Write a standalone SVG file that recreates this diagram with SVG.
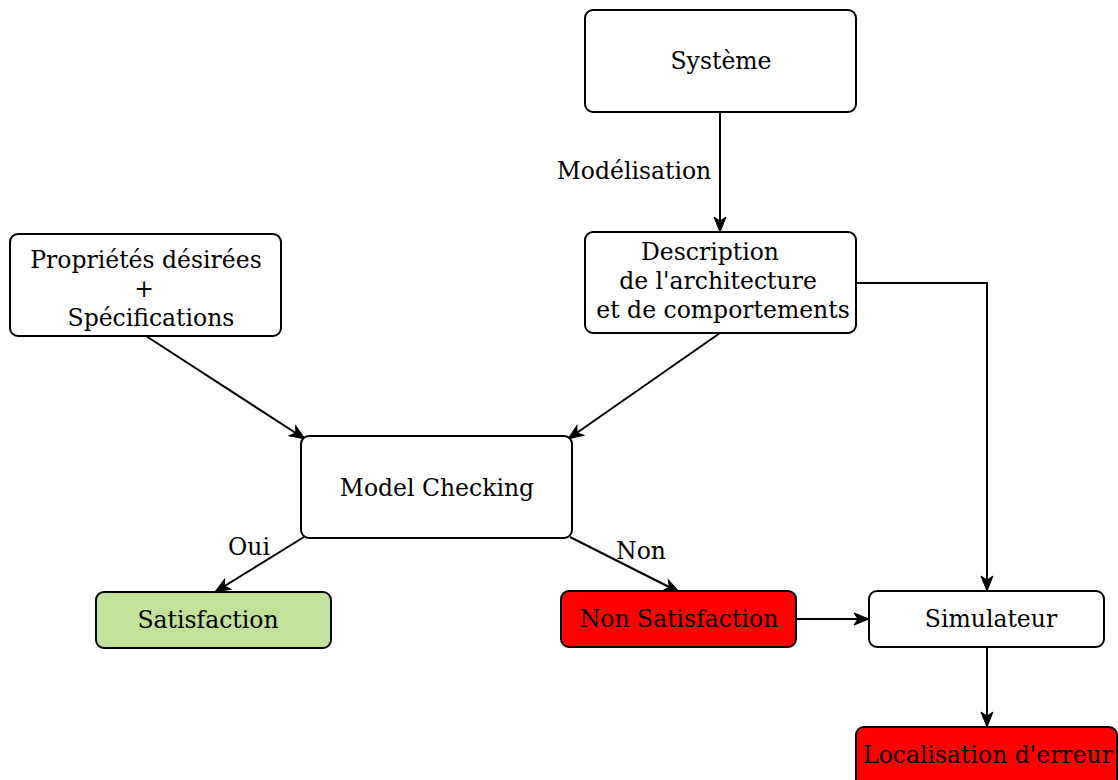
<svg xmlns="http://www.w3.org/2000/svg" width="1118" height="780" viewBox="0 0 1118 780">
<style>
.box{fill:#fff;stroke:#000;stroke-width:2}
.t{font-family:"DejaVu Serif",serif;font-size:23.5px;fill:#000;text-anchor:middle}
.c{fill:none;stroke:#000;stroke-width:2}
</style>
<defs>
<marker id="a" viewBox="0 0 16 14" refX="15" refY="7" markerWidth="16" markerHeight="14" markerUnits="userSpaceOnUse" orient="auto" overflow="visible">
<path d="M0,1 L15,7 L0,13 L4,7 z" fill="#000" stroke="#000" stroke-width="1" stroke-linejoin="miter"/>
</marker>
</defs>
<rect width="1118" height="780" fill="#fff"/>
<g id="connectors">
<path class="c" d="M720,112 L720,232" marker-end="url(#a)"/>
<path class="c" d="M856,283 L987,283 L987,591" marker-end="url(#a)"/>
<path class="c" d="M146,336 L305,439" marker-end="url(#a)"/>
<path class="c" d="M720,333 L568,439" marker-end="url(#a)"/>
<path class="c" d="M304,537 L215,592" marker-end="url(#a)"/>
<path class="c" d="M570,537 L679,592" marker-end="url(#a)"/>
<path class="c" d="M796,619 L869,619" marker-end="url(#a)"/>
<path class="c" d="M987,647 L987,727" marker-end="url(#a)"/>
<text class="t" x="634" y="179">Modélisation</text>
<text class="t" x="249" y="555">Oui</text>
<text class="t" x="641" y="559">Non</text>
</g>
<g id="systeme">
<rect class="box" x="585" y="10" width="271" height="102" rx="8"/>
<text class="t" x="721" y="69">Système</text>
</g>
<g id="description">
<rect class="box" x="585" y="232" width="271" height="101" rx="8"/>
<text class="t" x="710" y="260">Description</text>
<text class="t" x="718" y="289">de l'architecture</text>
<text class="t" x="723" y="318">et de comportements</text>
</g>
<g id="proprietes">
<rect class="box" x="10" y="234" width="271" height="102" rx="8"/>
<text class="t" x="146" y="268">Propriétés désirées</text>
<text class="t" x="144" y="297">+</text>
<text class="t" x="151" y="326">Spécifications</text>
</g>
<g id="modelchecking">
<rect class="box" x="301" y="436" width="271" height="102" rx="8"/>
<text class="t" x="437" y="496">Model Checking</text>
</g>
<g id="satisfaction">
<rect class="box" x="96" y="592" width="235" height="56" rx="8" style="fill:#c0e29a"/>
<text class="t" x="208" y="628">Satisfaction</text>
</g>
<g id="nonsatisfaction">
<rect class="box" x="561" y="591" width="235" height="56" rx="8" style="fill:#ff0000"/>
<text class="t" x="679" y="627">Non Satisfaction</text>
</g>
<g id="simulateur">
<rect class="box" x="869" y="591" width="235" height="56" rx="8"/>
<text class="t" x="991" y="627">Simulateur</text>
</g>
<g id="localisation">
<rect class="box" x="856" y="727" width="261" height="60" rx="8" style="fill:#ff0000"/>
<text class="t" x="988" y="763">Localisation d'erreur</text>
</g>
</svg>
